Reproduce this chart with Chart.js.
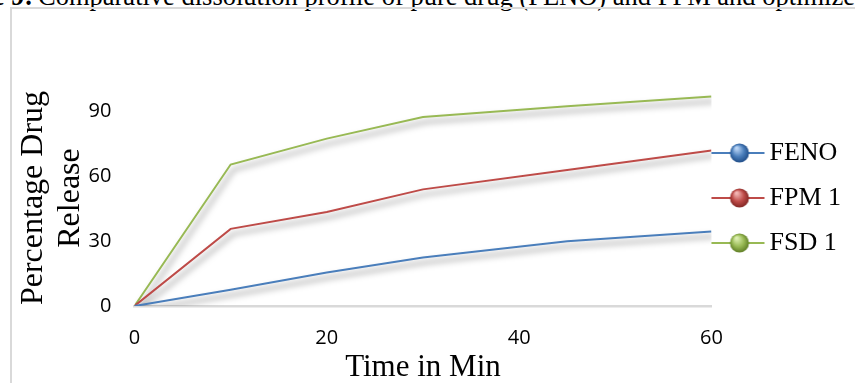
<!DOCTYPE html>
<html>
<head>
<meta charset="utf-8">
<script src="https://cdn.jsdelivr.net/npm/chart.js@4.4.1/dist/chart.umd.min.js"></script>
<style>
  html, body { margin: 0; padding: 0; background: #fff; overflow: hidden; }
  body { width: 855px; height: 383px; position: relative; }
  #caption { position: absolute; left: 38px; top: -17px; font: 26.5px/27px "Liberation Serif", serif; white-space: nowrap; color: #000; }
  #caption b { position: absolute; right: 100%; margin-right: 5px; }
  #frame { position: absolute; left: 10px; top: 7px; width: 900px; height: 400px; border: 2px solid #d9d9d9; }
  #wrap { position: absolute; left: 0; top: 0; width: 855px; height: 383px; }
</style>
</head>
<body>
<div id="caption"><b>Figure 9:</b>Comparative dissolution profile of pure drug (FENO) and FPM and optimized formulation (FSD 1)</div>
<div id="frame"></div>
<div id="wrap"><canvas id="chart"></canvas></div>
<script>
// time points (min) and % drug released
const timeMin = [0, 10, 20, 30, 45, 60];
const feno = [0, 7.5, 15.5, 22.5, 30, 34.5];
const fpm1 = [0, 35.7, 43.5, 54, 63, 72];
const fsd1 = [0, 65.5, 77.5, 87.5, 92.5, 97];
const seriesNames = ['FENO', 'FPM 1', 'FSD 1'];
const xTicks = [0, 20, 40, 60];
const yTicks = [0, 30, 60, 90];

const colors = ['#4a7ebb', '#be4b48', '#98b954'];
const lights = ['#b9d4f5', '#f2b5b3', '#dcefb0'];
const darks = ['#1d4a85', '#7e2421', '#5b7a22'];

// legend marker: line with a shaded ball, like the office style
function legendMarker(color, light, dark) {
    const c = document.createElement('canvas');
    c.width = 64;
    c.height = 22;
    const g = c.getContext('2d');
    g.strokeStyle = color;
    g.lineWidth = 2;
    g.beginPath();
    g.moveTo(0, 11);
    g.lineTo(53, 11);
    g.stroke();
    const grad = g.createRadialGradient(25, 6, 1, 28, 11, 10);
    grad.addColorStop(0, light);
    grad.addColorStop(0.55, color);
    grad.addColorStop(1, dark);
    g.fillStyle = grad;
    g.beginPath();
    g.arc(28, 11, 9.5, 0, Math.PI * 2);
    g.fill();
    return c;
}

const toPoints = (vals) => timeMin.map((t, i) => ({ x: t, y: vals[i] }));

const lineShadow = {
    id: 'lineShadow',
    beforeDatasetDraw(chart) {
        const ctx = chart.ctx;
        ctx.save();
        ctx.shadowColor = 'rgba(0, 0, 0, 0.5)';
        ctx.shadowBlur = 6;
        ctx.shadowOffsetX = 3;
        ctx.shadowOffsetY = 5;
    },
    afterDatasetDraw(chart) {
        chart.ctx.restore();
    }
};

const datasets = [feno, fpm1, fsd1].map((vals, i) => ({
    label: seriesNames[i],
    data: toPoints(vals),
    borderColor: colors[i],
    backgroundColor: colors[i],
    borderWidth: 2,
    pointRadius: 0,
    pointHoverRadius: 0,
    pointStyle: legendMarker(colors[i], lights[i], darks[i]),
    tension: 0,
    fill: false
}));

new Chart(document.getElementById('chart'), {
    type: 'line',
    data: { datasets: datasets },
    plugins: [lineShadow],
    options: {
        responsive: true,
        maintainAspectRatio: false,
        animation: false,
        layout: { padding: { left: 15, top: 90, right: 4, bottom: 0 } },
        plugins: {
            tooltip: { enabled: false },
            legend: {
                position: 'right',
                align: 'center',
                fullSize: false,
                labels: {
                    usePointStyle: true,
                    pointStyleWidth: 26,
                    padding: 19,
                    color: '#000',
                    font: { family: 'Liberation Serif', size: 26, lineHeight: 1 }
                }
            }
        },
        scales: {
            x: {
                type: 'linear',
                min: 0,
                max: 60,
                afterBuildTicks: (s) => { s.ticks = xTicks.map(v => ({ value: v })); },
                grid: { display: false, drawTicks: false },
                border: { display: true, color: '#d9d9d9', width: 2.5 },
                ticks: { padding: 20, color: '#000', maxRotation: 0, font: { family: 'Open Sans', size: 20 } },
                title: {
                    display: true,
                    text: 'Time in Min',
                    color: '#000',
                    font: { family: 'Liberation Serif', size: 31, lineHeight: 1 },
                    padding: { top: -18, bottom: 0 }
                }
            },
            y: {
                min: 0,
                max: 100,
                afterBuildTicks: (s) => { s.ticks = yTicks.map(v => ({ value: v })); },
                grid: { display: false, drawTicks: false },
                border: { display: false },
                ticks: { padding: 23, color: '#000', font: { family: 'Open Sans', size: 20 } },
                title: {
                    display: true,
                    text: ['Percentage Drug', 'Release'],
                    color: '#000',
                    font: { family: 'Liberation Serif', size: 32, lineHeight: 1.15 },
                    padding: { top: 0, bottom: -23 }
                }
            }
        }
    }
});
</script>
</body>
</html>
